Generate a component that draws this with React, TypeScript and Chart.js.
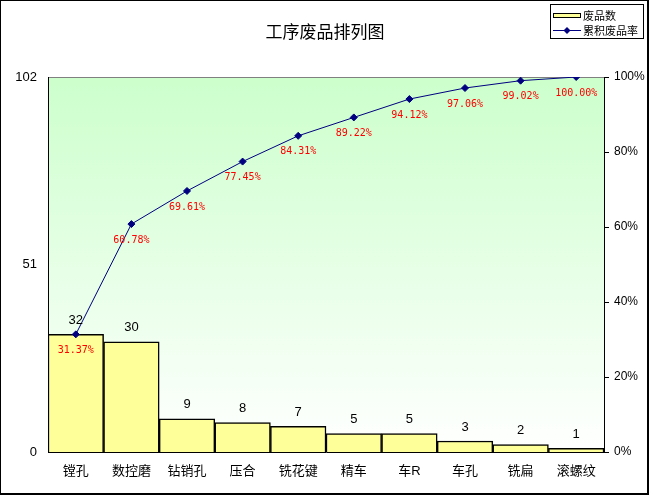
import { useEffect, useRef } from "react";
import { Chart, registerables, Plugin } from "chart.js";

Chart.register(...registerables);

const title = "工序废品排列图";
const categories = ["镗孔", "数控磨", "钻销孔", "压合", "铣花键", "精车", "车R", "车孔", "铣扁", "滚螺纹"];
const defectCounts = [32, 30, 9, 8, 7, 5, 5, 3, 2, 1];
const cumulativePct = [31.37, 60.78, 69.61, 77.45, 84.31, 89.22, 94.12, 97.06, 99.02, 100.0];
const leftTicks = [0, 51, 102];
const barLabel = "废品数";
const lineLabel = "累积废品率";

const CJK = "'Liberation Sans', 'Noto Sans CJK SC', sans-serif";

const decorPlugin: Plugin<"bar"> = {
  id: "decor",
  beforeDraw(chart) {
    const { ctx, chartArea: a, width, height } = chart;
    ctx.save();
    ctx.fillStyle = "#ffffff";
    ctx.fillRect(0, 0, width, height);
    // plot area gradient
    const g = ctx.createLinearGradient(0, a.top, 0, a.bottom);
    g.addColorStop(0, "#ccffcc");
    g.addColorStop(1, "#ffffff");
    ctx.fillStyle = g;
    ctx.fillRect(a.left, a.top, a.right - a.left, a.bottom - a.top);
    ctx.strokeStyle = "#808080";
    ctx.lineWidth = 1;
    ctx.beginPath();
    ctx.moveTo(a.left, a.top + 0.5);
    ctx.lineTo(a.right, a.top + 0.5);
    ctx.stroke();
    ctx.restore();
  },
  afterDraw(chart) {
    const { ctx, width, height } = chart;
    ctx.save();

    // outer border
    ctx.strokeStyle = "#000000";
    ctx.lineWidth = 2;
    ctx.strokeRect(0, 0, width - 1, height - 1);

    // title
    ctx.fillStyle = "#000000";
    ctx.font = "17px 'Noto Sans CJK SC', sans-serif";
    ctx.textAlign = "center";
    ctx.textBaseline = "middle";
    ctx.fillText(title, 325, 32);

    // bar value labels
    ctx.font = "13px 'Liberation Sans', sans-serif";
    ctx.textBaseline = "middle";
    const bars = chart.getDatasetMeta(0).data;
    bars.forEach((el, i) => {
      ctx.fillText(String(defectCounts[i]), el.x, el.y - 14);
    });

    // cumulative percentage labels
    ctx.fillStyle = "#ff0000";
    ctx.font = "10px 'DejaVu Sans Mono', monospace";
    const pts = chart.getDatasetMeta(1).data;
    pts.forEach((el, i) => {
      ctx.fillText(cumulativePct[i].toFixed(2) + "%", el.x, el.y + 16);
    });

    // legend
    ctx.fillStyle = "#ffffff";
    ctx.fillRect(550, 4, 93, 34);
    ctx.strokeStyle = "#000000";
    ctx.lineWidth = 1;
    ctx.strokeRect(550.5, 4.5, 93, 34);
    ctx.fillStyle = "#ffff99";
    ctx.fillRect(553, 13, 27, 5);
    ctx.strokeRect(553.5, 13.5, 27, 4);
    ctx.strokeStyle = "#000080";
    ctx.beginPath();
    ctx.moveTo(553, 30.5);
    ctx.lineTo(581, 30.5);
    ctx.stroke();
    ctx.fillStyle = "#000080";
    ctx.beginPath();
    ctx.moveTo(567, 27);
    ctx.lineTo(570.5, 30.5);
    ctx.lineTo(567, 34);
    ctx.lineTo(563.5, 30.5);
    ctx.closePath();
    ctx.fill();
    ctx.fillStyle = "#000000";
    ctx.font = "11px 'Noto Sans CJK SC', sans-serif";
    ctx.textAlign = "left";
    ctx.fillText(barLabel, 583, 15.5);
    ctx.fillText(lineLabel, 583, 30.5);

    ctx.restore();
  },
};

export default function App() {
  const chartRef = useRef<HTMLCanvasElement>(null);
  const chartInstance = useRef<Chart | null>(null);

  useEffect(() => {
    document.body.style.margin = "0";
    if (!chartRef.current) return;
    if (chartInstance.current) chartInstance.current.destroy();
    const ctx = chartRef.current.getContext("2d");
    if (!ctx) return;

    chartInstance.current = new Chart(ctx, {
      type: "bar",
      data: {
        labels: categories,
        datasets: [
          {
            type: "bar",
            label: barLabel,
            data: defectCounts,
            backgroundColor: "#ffff99",
            borderColor: "#000000",
            borderWidth: 1.5,
            categoryPercentage: 1,
            barPercentage: 1,
            yAxisID: "y",
            order: 2,
          },
          {
            type: "line",
            label: lineLabel,
            data: cumulativePct,
            borderColor: "#000080",
            backgroundColor: "#000080",
            borderWidth: 1,
            pointStyle: "rectRot",
            pointRadius: 3.5,
            tension: 0,
            yAxisID: "y1",
            order: 1,
          } as any,
        ],
      },
      options: {
        responsive: false,
        animation: false,
        layout: { padding: { top: 77, left: 0, right: 0, bottom: 0 } },
        plugins: {
          legend: { display: false },
          title: { display: false },
          tooltip: { enabled: false },
        },
        scales: {
          x: {
            offset: true,
            grid: { display: false },
            border: { display: true, color: "#000000", width: 1 },
            ticks: {
              color: "#000000",
              font: { family: CJK, size: 13 },
              padding: 4,
              maxRotation: 0,
              autoSkip: false,
            },
            afterFit: (s: any) => {
              s.height = 43;
            },
          },
          y: {
            min: 0,
            max: 102,
            afterBuildTicks: (s: any) => {
              s.ticks = leftTicks.map((v) => ({ value: v }));
            },
            grid: { display: false },
            border: { display: true, color: "#000000", width: 1 },
            ticks: {
              color: "#000000",
              font: { family: CJK, size: 13 },
              padding: 3,
            },
            afterFit: (s: any) => {
              s.width = 48;
            },
          },
          y1: {
            position: "right",
            min: 0,
            max: 100,
            grid: {
              drawOnChartArea: false,
              color: "#000000",
              tickLength: 5,
            },
            border: { display: true, color: "#000000", width: 1 },
            ticks: {
              stepSize: 20,
              color: "#000000",
              font: { family: CJK, size: 12 },
              padding: 5,
              callback: (v) => v + "%",
            },
            afterFit: (s: any) => {
              s.width = 45;
            },
          },
        },
      },
      plugins: [decorPlugin as any],
    });

    return () => {
      if (chartInstance.current) {
        chartInstance.current.destroy();
        chartInstance.current = null;
      }
    };
  }, []);

  return (
    <div style={{ width: 649, height: 495 }}>
      <canvas ref={chartRef} width={649} height={495}></canvas>
    </div>
  );
}
